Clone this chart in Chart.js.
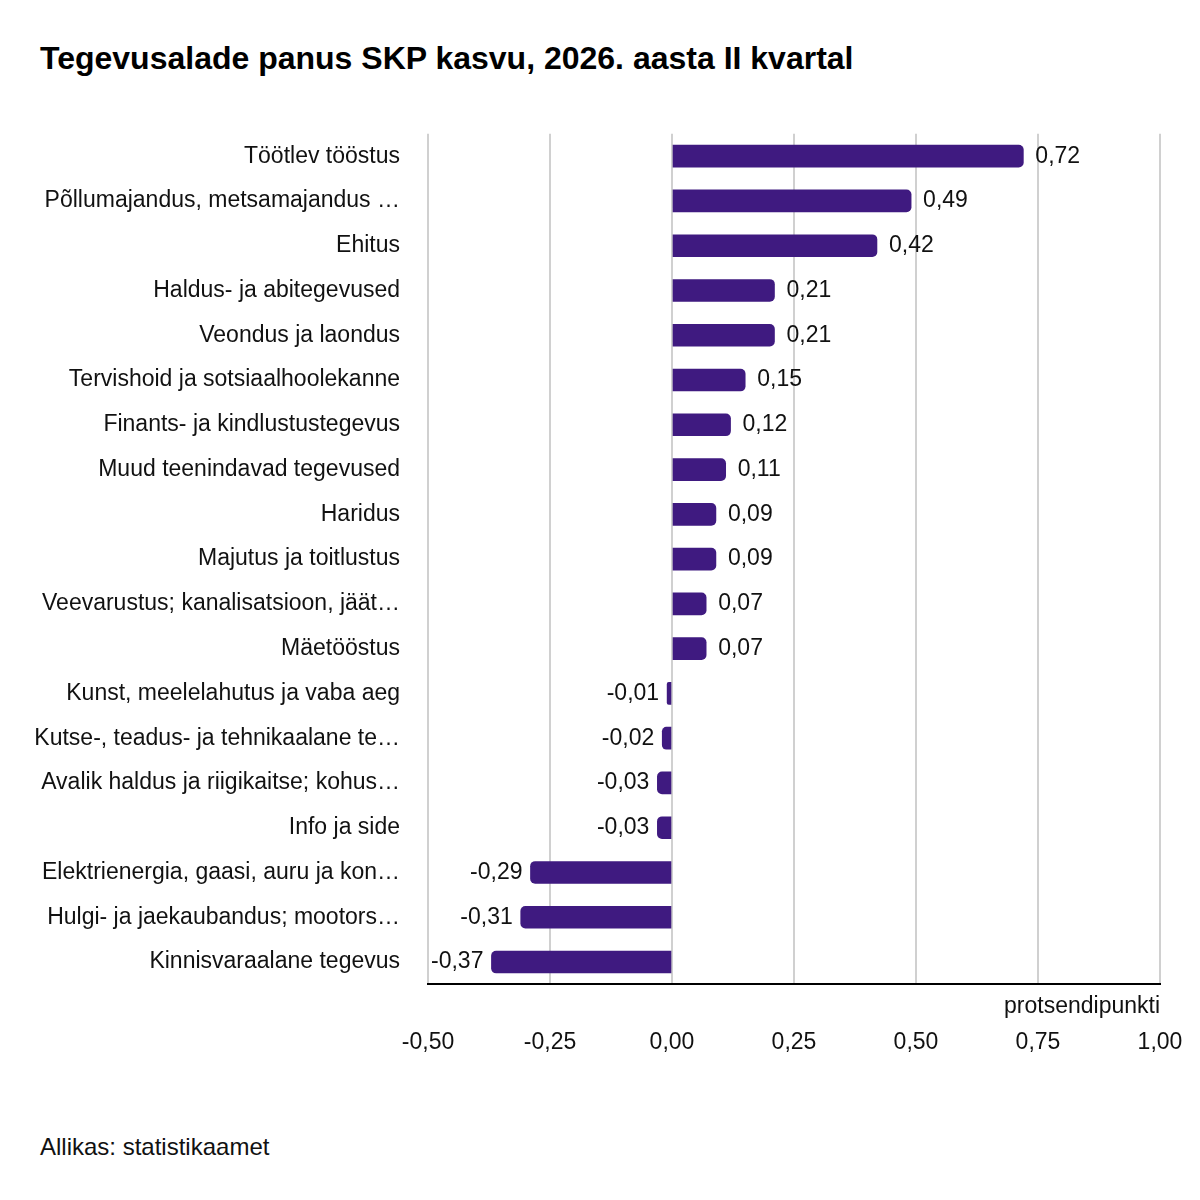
<!DOCTYPE html>
<html lang="et">
<head>
  <meta charset="UTF-8" />
  <title>Tegevusalade panus SKP kasvu</title>
  <style>
    body { margin: 0; width: 1200px; height: 1200px; background: #fff; font-family: Arial, "Liberation Sans", sans-serif; position: relative; }
    h1 { position: absolute; left: 40px; top: 40px; margin: 0; font-size: 32px; font-weight: bold; color: #000; }
    #wrap { position: absolute; left: 0; top: 100px; width: 1200px; height: 1000px; }
    #source { position: absolute; left: 40px; top: 1133px; font-size: 24px; color: #111; }
  </style>
</head>
<body>
  <h1>Tegevusalade panus SKP kasvu, 2026. aasta II kvartal</h1>
  <div id="wrap"><canvas id="chart"></canvas></div>
  <div id="source">Allikas: statistikaamet</div>

  <script src="https://cdn.jsdelivr.net/npm/chart.js"></script>
  <script>
    const categories = [
      'Töötlev tööstus',
      'Põllumajandus, metsamajandus …',
      'Ehitus',
      'Haldus- ja abitegevused',
      'Veondus ja laondus',
      'Tervishoid ja sotsiaalhoolekanne',
      'Finants- ja kindlustustegevus',
      'Muud teenindavad tegevused',
      'Haridus',
      'Majutus ja toitlustus',
      'Veevarustus; kanalisatsioon, jäät…',
      'Mäetööstus',
      'Kunst, meelelahutus ja vaba aeg',
      'Kutse-, teadus- ja tehnikaalane te…',
      'Avalik haldus ja riigikaitse; kohus…',
      'Info ja side',
      'Elektrienergia, gaasi, auru ja kon…',
      'Hulgi- ja jaekaubandus; mootors…',
      'Kinnisvaraalane tegevus'
    ];
    const values = [0.72, 0.49, 0.42, 0.21, 0.21, 0.15, 0.12, 0.11, 0.09, 0.09, 0.07, 0.07, -0.01, -0.02, -0.03, -0.03, -0.29, -0.31, -0.37];
    const axisMin = -0.5, axisMax = 1.0, axisStep = 0.25;
    const axisTitle = 'protsendipunkti';

    const fmt = v => v.toFixed(2).replace('.', ',');

    const extras = {
      id: 'extras',
      afterDatasetsDraw(chart) {
        const ctx = chart.ctx;
        const meta = chart.getDatasetMeta(0);
        ctx.save();
        ctx.font = '23px Arial';
        ctx.fillStyle = '#111';
        ctx.textBaseline = 'middle';
        meta.data.forEach((bar, i) => {
          const v = values[i];
          if (v >= 0) { ctx.textAlign = 'left'; ctx.fillText(fmt(v), bar.x + 12, bar.y); }
          else { ctx.textAlign = 'right'; ctx.fillText(fmt(v), bar.x - 8, bar.y); }
        });
        const a = chart.chartArea;
        ctx.textAlign = 'right';
        ctx.fillText(axisTitle, a.right, a.bottom + 22);
        ctx.restore();
      }
    };

    new Chart(document.getElementById('chart'), {
      type: 'bar',
      data: {
        labels: categories,
        datasets: [{
          data: values,
          backgroundColor: '#3f1a80',
          barThickness: 22,
          borderRadius: 5,
          borderSkipped: 'start'
        }]
      },
      plugins: [extras],
      options: {
        indexAxis: 'y',
        responsive: true,
        maintainAspectRatio: false,
        animation: false,
        layout: { padding: { top: 14, right: 40, left: 20, bottom: 0 } },
        plugins: { legend: { display: false }, tooltip: { enabled: false } },
        scales: {
          x: {
            min: axisMin, max: axisMax,
            afterFit: s => { s.paddingRight = 0; },
            ticks: { stepSize: axisStep, padding: 44, color: '#111', font: { size: 23, family: 'Arial' }, callback: v => fmt(v) },
            grid: { color: '#d0d0d0', lineWidth: 2, drawTicks: false },
            border: { display: true, color: '#000', width: 2 }
          },
          y: {
            afterFit: s => { s.width = 408; },
            ticks: { padding: 20, color: '#111', font: { size: 23, family: 'Arial' } },
            grid: { display: false },
            border: { display: false }
          }
        }
      }
    });
  </script>
</body>
</html>
